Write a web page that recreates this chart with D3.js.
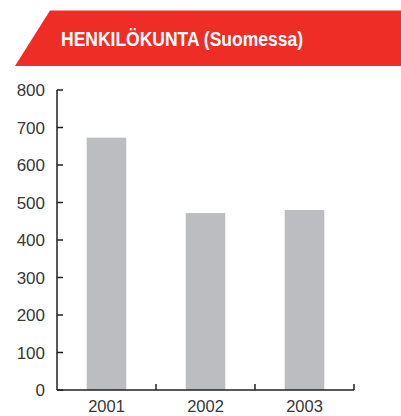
<!DOCTYPE html>
<html>
<head>
<meta charset="utf-8">
<script src="https://cdn.jsdelivr.net/npm/d3@7"></script>
<style>
  body { margin: 0; background: #fff; }
  svg { display: block; }
</style>
</head>
<body>
<svg id="chart"></svg>
<script>
// data
var years = ["2001", "2002", "2003"];
var staff = [673, 472, 480];
var yTicks = [0, 100, 200, 300, 400, 500, 600, 700, 800];
var title = "HENKILÖKUNTA (Suomessa)";

var width = 401, height = 416;
var margin = { top: 90, right: 47, bottom: 26, left: 57 };

var svg = d3.select("#chart")
  .attr("width", width)
  .attr("height", height);

// red banner
svg.append("path")
  .attr("d", "M50,10.5 L401,10.5 L401,66 L15,66 Z")
  .attr("fill", "#ee2e26");

// condensed look: squeeze the bold text to the width it has in the reference
svg.append("text")
  .attr("x", 61)
  .attr("y", 46)
  .attr("fill", "#fff")
  .attr("textLength", 242)
  .attr("lengthAdjust", "spacingAndGlyphs")
  .style("font-family", "'Liberation Sans', Arial, sans-serif")
  .style("font-weight", "bold")
  .style("font-size", "20px")
  .text(title);

var x = d3.scaleBand()
  .domain(years)
  .range([margin.left, width - margin.right])
  .paddingInner(0.6)
  .paddingOuter(0.3);

// band edges for the x tick marks
var xEdge = d3.scaleBand()
  .domain(years)
  .range([margin.left, width - margin.right]);

var y = d3.scaleLinear()
  .domain([0, 800])
  .range([height - margin.bottom, margin.top]);

// bars
svg.append("g")
  .selectAll("rect")
  .data(staff)
  .enter()
  .append("rect")
  .attr("x", function (d, i) { return x(years[i]); })
  .attr("width", x.bandwidth())
  .attr("y", function (d) { return y(d); })
  .attr("height", function (d) { return y(0) - y(d); })
  .attr("fill", "#bcbdc0");

var ink = "#231f20";

// y axis
var yAxis = svg.append("g")
  .attr("transform", "translate(" + margin.left + ",0)");
yAxis.append("line")
  .attr("y1", y(0)).attr("y2", y(800))
  .attr("stroke", ink).attr("stroke-width", 1.5);
yAxis.selectAll(".tick")
  .data(yTicks)
  .enter()
  .append("line")
  .attr("x1", 0).attr("x2", 6)
  .attr("y1", function (d) { return y(d); })
  .attr("y2", function (d) { return y(d); })
  .attr("stroke", ink).attr("stroke-width", 1.5);
yAxis.selectAll("text")
  .data(yTicks)
  .enter()
  .append("text")
  .attr("x", -12)
  .attr("y", function (d) { return y(d); })
  .attr("dy", "0.36em")
  .attr("text-anchor", "end")
  .attr("fill", "#383838")
  .style("font-family", "'Liberation Sans', Arial, sans-serif")
  .style("font-size", "17px")
  .text(function (d) { return d; });

// x axis
var xAxis = svg.append("g");
xAxis.append("line")
  .attr("x1", margin.left).attr("x2", width - margin.right)
  .attr("y1", y(0)).attr("y2", y(0))
  .attr("stroke", ink).attr("stroke-width", 1.5);
xAxis.selectAll(".tick")
  .data(years)
  .enter()
  .append("line")
  .attr("x1", function (d) { return xEdge(d) + xEdge.bandwidth(); })
  .attr("x2", function (d) { return xEdge(d) + xEdge.bandwidth(); })
  .attr("y1", y(0)).attr("y2", y(0) - 6)
  .attr("stroke", ink).attr("stroke-width", 1.5);
xAxis.selectAll("text")
  .data(years)
  .enter()
  .append("text")
  .attr("x", function (d) { return x(d) + x.bandwidth() / 2; })
  .attr("y", y(0) + 22)
  .attr("text-anchor", "middle")
  .attr("fill", "#383838")
  .style("font-family", "'Liberation Sans', Arial, sans-serif")
  .style("font-size", "16.5px")
  .text(function (d) { return d; });
</script>
</body>
</html>
